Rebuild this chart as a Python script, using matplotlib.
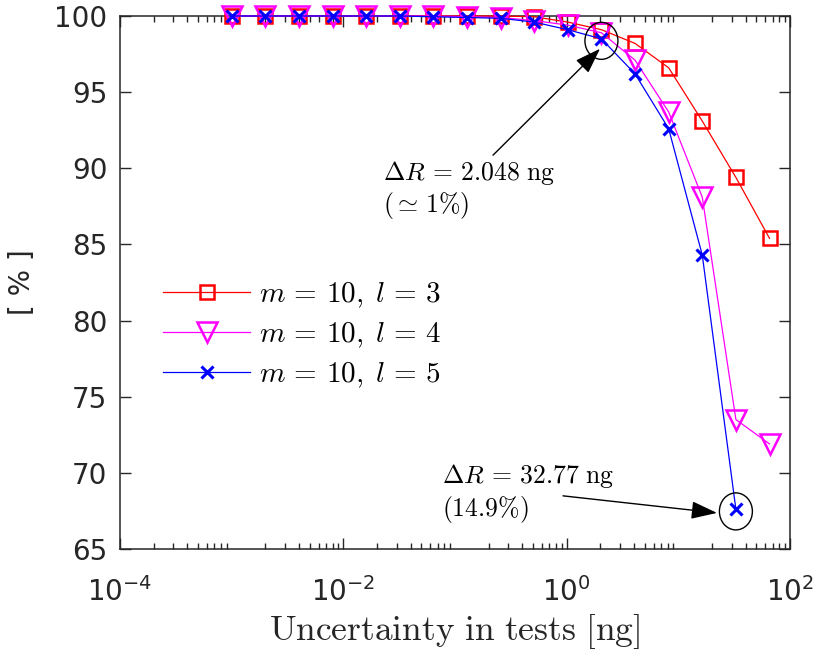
import numpy as np
import matplotlib
matplotlib.use("Agg")
import matplotlib.pyplot as plt
from matplotlib.patches import Ellipse
from matplotlib import transforms

# uncertainty levels [ng]
x_ng = [0.001, 0.002, 0.004, 0.008, 0.016, 0.032, 0.064, 0.128, 0.256,
        0.512, 1.024, 2.048, 4.096, 8.192, 16.384, 32.768, 65.536]

# detection rate [%]
r_l3 = [100, 100, 100, 100, 100, 100, 100, 100, 100,
        99.95, 99.6, 99.1, 98.2, 96.6, 93.1, 89.4, 85.4]
r_l4 = [100, 100, 100, 100, 100, 100, 100, 99.95, 99.9,
        99.7, 99.4, 98.9, 97.1, 93.7, 88.1, 73.5, 71.9]
r_l5 = [100, 100, 100, 100, 100, 100, 99.95, 99.9, 99.85,
        99.6, 99.1, 98.5, 96.2, 92.6, 84.3, 67.6]

labels = [r"$m \,=\, 10,\; l \,=\, 3$", r"$m \,=\, 10,\; l \,=\, 4$",
          r"$m \,=\, 10,\; l \,=\, 5$"]

axc = "#262626"

fig = plt.figure(figsize=(8.16, 6.51), dpi=100)
ax = fig.add_axes([120 / 816, 1 - 549 / 651, 670 / 816, 533 / 651])

ax.plot(x_ng, r_l3, color="#ff0000", lw=0.9, marker="s", ms=9.5, mew=1.8,
        mfc="none", label=labels[0], clip_on=False, zorder=3)
ax.plot(x_ng, r_l4, color="#ff00ff", lw=0.9, marker="v", ms=14, mew=1.8,
        mfc="none", label=labels[1], clip_on=False, zorder=3)
ax.plot(x_ng[:len(r_l5)], r_l5, color="#0000ff", lw=0.9, marker="x", ms=9,
        mew=2.2, label=labels[2], clip_on=False, zorder=4)

ax.set_xscale("log")
ax.set_xlim(1e-4, 1e2)
ax.set_ylim(65, 100)
ax.set_yticks(np.arange(65, 101, 5))
ax.set_xticks([1e-4, 1e-2, 1e0, 1e2])

for s in ax.spines.values():
    s.set_color(axc)
    s.set_linewidth(1.1)
ax.tick_params(which="both", direction="in", top=True, right=True,
               colors=axc, labelsize=20, width=1.0)
ax.tick_params(which="major", length=8)
ax.tick_params(which="minor", length=4.5)
ax.tick_params(axis="y", pad=9)
ax.tick_params(axis="x", pad=20)

ax.set_ylabel("[ % ]", fontsize=20, color=axc)
ax.yaxis.set_label_coords(-0.125, 0.5)
ax.set_xlabel(r"$\mathrm{Uncertainty\ in\ tests\ [ng]}$", fontsize=25.5,
              math_fontfamily="cm", color=axc)
ax.xaxis.set_label_coords(0.5, -0.118)

leg = ax.legend(loc="center left", bbox_to_anchor=(0.064, 0.402),
                frameon=False, fontsize=21, handlelength=3.0,
                handletextpad=0.3, labelspacing=0.35, borderpad=0,
                borderaxespad=0)
for t in leg.get_texts():
    t.set_math_fontfamily("cm")

# circles around the two marked points
for xi, yi in [(x_ng[11], r_l5[11]), (x_ng[15], r_l5[15])]:
    tr = fig.dpi_scale_trans + transforms.ScaledTranslation(xi, yi, ax.transData)
    e = Ellipse((0, -0.02), 0.33, 0.37, transform=tr, fill=False,
                ec="k", lw=1.0, clip_on=False, zorder=5)
    ax.add_patch(e)

arr = dict(arrowstyle="-|>,head_length=1.6,head_width=0.55", color="k",
           lw=1.0, shrinkA=0, shrinkB=0)
ax.annotate("", xy=(1.99, 97.85), xytext=(0.219, 90.86), arrowprops=arr)
ax.annotate("", xy=(22.2, 67.37), xytext=(0.927, 68.49), arrowprops=arr)

ax.text(0.0227, 89.2, r"$\Delta R \,=\, 2.048\ \mathrm{ng}$", fontsize=18.5,
        math_fontfamily="cm", va="baseline")
ax.text(0.0227, 87.1, r"$(\simeq\, 1\%)$", fontsize=18.5,
        math_fontfamily="cm", va="baseline")
ax.text(0.0763, 69.34, r"$\Delta R \,=\, 32.77\ \mathrm{ng}$", fontsize=18.5,
        math_fontfamily="cm", va="baseline")
ax.text(0.0763, 67.17, r"$(14.9\%)$", fontsize=18.5,
        math_fontfamily="cm", va="baseline")

fig.savefig("out.png", dpi=100)
